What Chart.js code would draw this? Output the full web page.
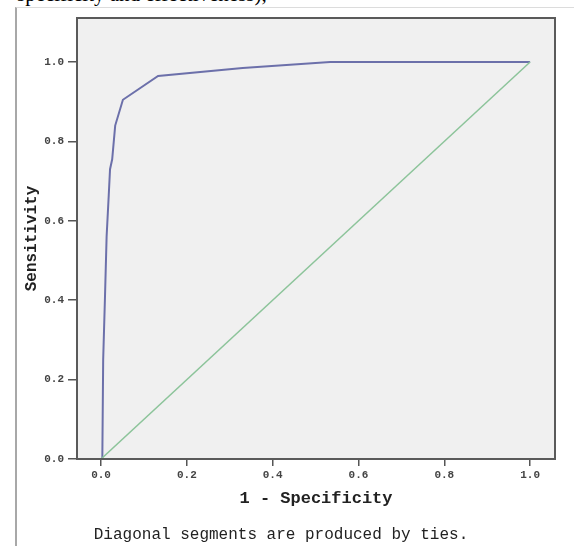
<!DOCTYPE html>
<html>
<head>
<meta charset="utf-8">
<script src="https://cdn.jsdelivr.net/npm/chart.js@4"></script>
<style>
  html, body { margin: 0; padding: 0; background: #ffffff; }
  body { width: 574px; height: 546px; position: relative; overflow: hidden; }
  #cap { position: absolute; left: 0; top: 0; width: 574px; height: 7px; overflow: hidden; }
  #cap span { position: absolute; left: 17px; top: -16px; font-family: "Liberation Serif", serif; font-size: 21px; color: #000; white-space: nowrap; line-height: 21px; }
  #frame { position: absolute; left: 15px; top: 7px; width: 570px; height: 560px; border-left: 2px solid #a8a8a8; border-top: 1px solid #dcdcdc; background: #fff; }
  #note { position: absolute; left: 0; width: 562px; top: 526px; text-align: center; font-family: "Liberation Mono", monospace; font-size: 16px; color: #222; white-space: nowrap; }
  canvas { position: absolute; left: 0; top: 0; }
</style>
</head>
<body>
<div id="cap"><span>specificity and effectiveness),</span></div>
<div id="frame"></div>
<canvas id="c" width="574" height="546"></canvas>
<div id="note">Diagonal segments are produced by ties.</div>
<script>
// ROC curve (1 - specificity, sensitivity)
const rocFpr = [0.003, 0.005, 0.009, 0.013, 0.018, 0.021, 0.026, 0.033, 0.051, 0.133, 0.33, 0.534, 1.0];
const rocTpr = [0.000, 0.250, 0.400, 0.560, 0.665, 0.730, 0.755, 0.840, 0.905, 0.965, 0.985, 1.000, 1.0];
// Reference diagonal
const diagX = [0.0, 1.0];
const diagY = [0.0, 1.0];
// Tick labels
const xTicks = [0.0, 0.2, 0.4, 0.6, 0.8, 1.0];
const yTicks = [0.0, 0.2, 0.4, 0.6, 0.8, 1.0];

const toPts = (xs, ys) => xs.map((x, i) => ({ x: x, y: ys[i] }));

const tickFont = { family: "Liberation Mono", size: 11, weight: "bold" };

const plotBox = {
  id: "plotBox",
  beforeDatasetsDraw(chart) {
    const a = chart.chartArea, ctx = chart.ctx;
    ctx.save();
    ctx.fillStyle = "#f0f0f0";
    ctx.fillRect(a.left, a.top, a.right - a.left, a.bottom - a.top);
    ctx.restore();
  },
  afterDatasetsDraw(chart) {
    const a = chart.chartArea, ctx = chart.ctx;
    ctx.save();
    ctx.strokeStyle = "#5a5a5a";
    ctx.lineWidth = 2;
    ctx.strokeRect(a.left, a.top, a.right - a.left, a.bottom - a.top);
    ctx.restore();
  }
};

new Chart(document.getElementById("c"), {
  type: "scatter",
  data: {
    datasets: [
      {
        data: toPts(diagX, diagY),
        showLine: true,
        borderColor: "#8cc49a",
        borderWidth: 1.5,
        pointRadius: 0,
        tension: 0
      },
      {
        data: toPts(rocFpr, rocTpr),
        showLine: true,
        borderColor: "#6c70aa",
        borderWidth: 2,
        pointRadius: 0,
        tension: 0
      }
    ]
  },
  options: {
    responsive: false,
    animation: false,
    devicePixelRatio: 1,
    layout: { padding: { top: 18, right: 19, left: 0, bottom: 0 } },
    plugins: { legend: { display: false }, tooltip: { enabled: false } },
    scales: {
      x: {
        type: "linear",
        min: -0.056,
        max: 1.058,
        afterFit: s => { s.height = 87; },
        afterBuildTicks: s => { s.ticks = xTicks.map(v => ({ value: v })); },
        grid: { drawOnChartArea: false, drawTicks: true, tickLength: 7, color: "#555", lineWidth: 1.5 },
        border: { display: false },
        ticks: { padding: 3, font: tickFont, color: "#444", autoSkip: false, maxRotation: 0,
                 callback: v => Number(v).toFixed(1) },
        title: { display: true, text: "1 - Specificity",
                 font: { family: "Liberation Mono", size: 17, weight: "bold" }, color: "#222",
                 padding: { top: 0, bottom: 37 } }
      },
      y: {
        type: "linear",
        min: 0,
        max: 1.111,
        afterFit: s => { s.width = 77; },
        afterBuildTicks: s => { s.ticks = yTicks.map(v => ({ value: v })); },
        grid: { drawOnChartArea: false, drawTicks: true, tickLength: 9, color: "#555", lineWidth: 1.5 },
        border: { display: false },
        ticks: { padding: 4, font: tickFont, color: "#444", autoSkip: false,
                 callback: v => Number(v).toFixed(1) },
        title: { display: true, text: "Sensitivity",
                 font: { family: "Liberation Mono", size: 16, weight: "bold" }, color: "#222",
                 padding: { top: 22, bottom: 0 } }
      }
    }
  },
  plugins: [plotBox]
});
</script>
</body>
</html>
